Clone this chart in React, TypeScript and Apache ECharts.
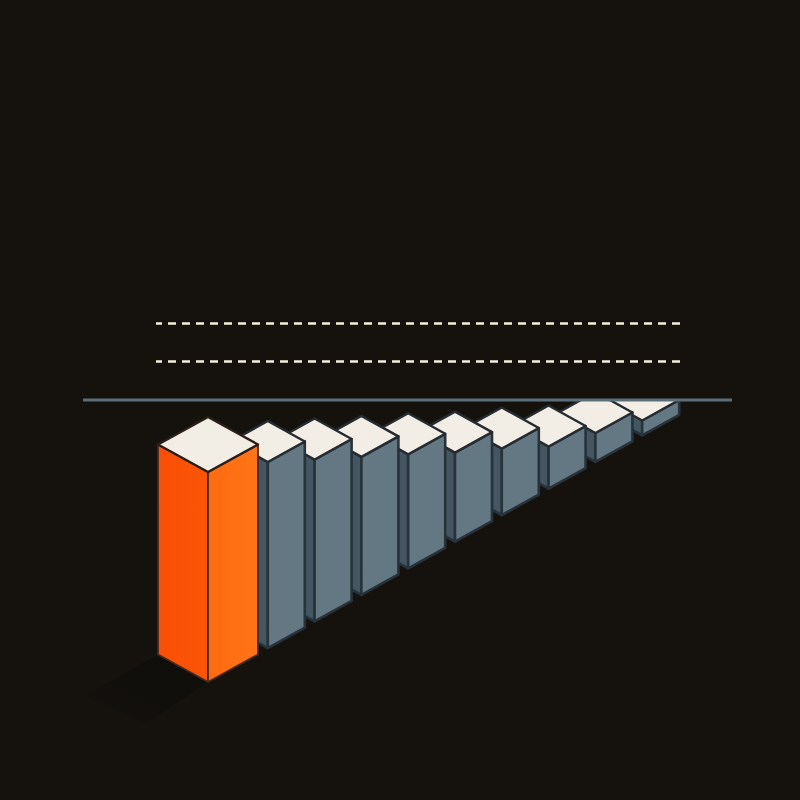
import React, { useEffect, useRef } from "react";
import * as echarts from "echarts";

const categories = ["A", "B", "C", "D", "E", "F", "G", "H", "I", "J"];
const barValues = [100, 88.6, 77.1, 65.7, 54.3, 42.4, 31.7, 20, 13.8, 7.1];
const highlightIndex = 0;
const dashedLevels = [170.7, 152.6];
const baselineLevel = 134.3;

const BG = "#15120e";
const SLOPE = 0.568;

function App() {
  const ref = useRef<HTMLDivElement>(null);
  useEffect(() => {
    const chart = echarts.init(ref.current!, undefined, { renderer: "svg" });
    const clipY = 400;

    const renderBar = (_: any, api: any) => {
      const idx = api.value(0);
      const v = api.value(1);
      const hi = idx === highlightIndex;
      const center = api.coord([idx, 0]);
      const top0 = api.coord([idx, v]);
      const base0 = api.coord([0, 0]);
      const hw = hi ? 50 : 37;
      const hh = hi ? 27.5 : 20.5;
      const rightCorner = center[0] + 37;
      const fx = rightCorner - hw;
      const refX = base0[0] + 37 - 50;
      const by = center[1] - SLOPE * (fx - refX);
      const ty = by - (center[1] - top0[1]);
      const lx = fx - hw;
      const rx = fx + hw;
      const stroke = hi ? "#3f2a24" : "#28323a";
      const sw = hi ? 1.8 : 2.6;
      const leftFill = hi
        ? { type: "linear", x: 0, y: 0, x2: 1, y2: 0, colorStops: [{ offset: 0, color: "#f94f06" }, { offset: 1, color: "#fc5507" }] }
        : "#435661";
      const rightFill = hi
        ? { type: "linear", x: 0, y: 0, x2: 1, y2: 0, colorStops: [{ offset: 0, color: "#ff6a10" }, { offset: 1, color: "#ff7416" }] }
        : "#647884";
      const poly = (points: number[][], fill: any, s = stroke, w = sw) => ({
        type: "polygon",
        shape: { points },
        style: { fill, stroke: s, lineWidth: w, lineJoin: "round" },
      });
      const children: any[] = [];
      if (hi) {
        children.push({
          type: "polygon",
          shape: { points: [[lx, by - hh], [fx, by], [146, 724], [84, 696]] },
          style: {
            fill: {
              type: "linear", x: 1, y: 0, x2: 0, y2: 1,
              colorStops: [
                { offset: 0, color: "#100e0b" },
                { offset: 0.55, color: "#110f0b" },
                { offset: 1, color: BG },
              ],
            },
          },
        });
      }
      children.push(
        poly([[lx, ty - hh], [fx, ty], [fx, by], [lx, by - hh]], leftFill),
        poly([[fx, ty], [rx, ty - hh], [rx, by - hh], [fx, by]], rightFill),
        poly([[fx, ty - 2 * hh], [rx, ty - hh], [fx, ty], [lx, ty - hh]], "#f2eee6", hi ? "#2c1d18" : "#252b30", 2.4)
      );
      return {
        type: "group",
        clipPath: { type: "rect", shape: { x: 0, y: clipY, width: 800, height: 400 } },
        children,
      };
    };

    const renderRule = (_: any, api: any) => {
      const dashed = api.value(2) === 1;
      const y = api.coord([0, api.value(1)])[1];
      return {
        type: "line",
        shape: dashed ? { x1: 156, y1: y, x2: 680, y2: y } : { x1: 83, y1: y, x2: 732, y2: y },
        style: dashed
          ? { stroke: "#f6f0dc", lineWidth: 2.4, lineDash: [8, 6], lineDashOffset: 2.4, fill: null }
          : { stroke: "#5c6e78", lineWidth: 3, fill: null },
      };
    };

    chart.setOption({
      animation: false,
      backgroundColor: BG,
      grid: { left: 197.6, width: 468, top: 262, height: 420 },
      xAxis: { type: "category", data: categories, show: false },
      yAxis: { type: "value", min: 0, max: 200, show: false },
      series: [
        {
          type: "custom",
          renderItem: renderBar,
          encode: { x: 0, y: 1 },
          data: barValues.map((v, i) => [i, v]).reverse(),
        },
        {
          type: "custom",
          renderItem: renderRule,
          encode: { x: 0, y: 1 },
          data: [
            ...dashedLevels.map((l) => [0, l, 1]),
            [0, baselineLevel, 0],
          ],
        },
      ],
    });
    return () => chart.dispose();
  }, []);
  return (
    <div
      ref={ref}
      style={{ position: "fixed", left: 0, top: 0, width: 800, height: 800 }}
    />
  );
}

export default App;
